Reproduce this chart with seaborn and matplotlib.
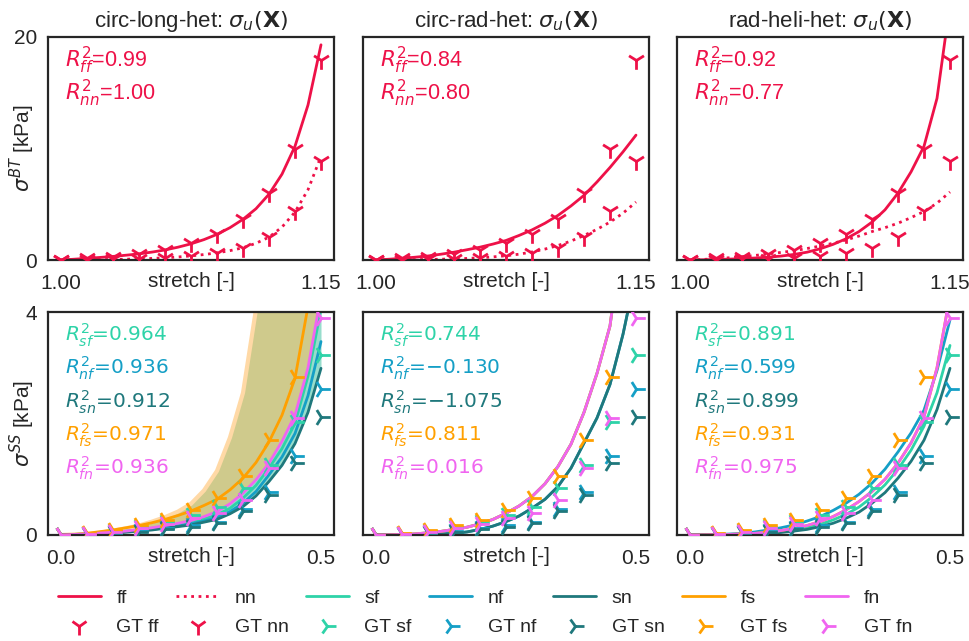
import numpy as np
import pandas as pd
import matplotlib
matplotlib.use("Agg")
import matplotlib.pyplot as plt
from matplotlib.lines import Line2D
import seaborn as sns

sns.set_theme(style="white")
plt.rcParams["font.family"] = ["Liberation Sans", "DejaVu Sans"]
plt.rcParams["mathtext.fontset"] = "dejavusans"

# ---------------- data ----------------
titles = ["circ-long-het", "circ-rad-het", "rad-heli-het"]

# biaxial tension (top row)
stretch_gt = [1.000, 1.015, 1.030, 1.045, 1.060, 1.075, 1.090, 1.105, 1.120, 1.135, 1.150]
gt_ff = [0.0, 0.15, 0.30, 0.54, 0.90, 1.50, 2.33, 3.65, 6.0, 10.0, 17.9]
gt_nn = [0.0, 0.02, 0.05, 0.10, 0.20, 0.36, 0.65, 1.05, 2.1, 4.35, 8.9]

stretch_fit = [1.0000, 1.0075, 1.0150, 1.0225, 1.0300, 1.0375, 1.0450, 1.0525, 1.0600, 1.0675,
               1.0750, 1.0825, 1.0900, 1.0975, 1.1050, 1.1125, 1.1200, 1.1275, 1.1350, 1.1425, 1.1500]
fit_ff = [
    [0.0, 0.07, 0.15, 0.23, 0.32, 0.43, 0.55, 0.71, 0.9, 1.15, 1.45, 1.83, 2.3, 2.9, 3.65, 4.6, 5.9, 7.7, 10.2, 13.9, 19.3],
    [0.0, 0.07, 0.15, 0.25, 0.36, 0.52, 0.7, 0.92, 1.15, 1.43, 1.75, 2.2, 2.7, 3.3, 4.0, 4.85, 5.8, 7.0, 8.3, 9.7, 11.2],
    [0.0, 0.02, 0.05, 0.08, 0.12, 0.18, 0.25, 0.35, 0.5, 0.7, 1.0, 1.4, 1.9, 2.55, 3.4, 4.5, 6.0, 7.9, 10.2, 14.5, 23.0],
]
fit_nn = [
    [0.0, 0.01, 0.02, 0.035, 0.05, 0.07, 0.1, 0.14, 0.2, 0.27, 0.37, 0.49, 0.64, 0.84, 1.1, 1.5, 2.05, 2.95, 4.3, 6.3, 9.3],
    [0.0, 0.01, 0.02, 0.035, 0.05, 0.07, 0.1, 0.14, 0.2, 0.28, 0.38, 0.52, 0.72, 0.98, 1.3, 1.7, 2.2, 2.75, 3.4, 4.2, 5.2],
    [0.0, 0.05, 0.12, 0.2, 0.3, 0.41, 0.54, 0.68, 0.83, 1.03, 1.25, 1.5, 1.8, 2.15, 2.55, 2.9, 3.3, 3.8, 4.35, 5.1, 6.1],
]
r2_top = [("0.99", "1.00"), ("0.84", "0.80"), ("0.92", "0.77")]

# simple shear (bottom row)
shear_gt = [0.00, 0.05, 0.10, 0.15, 0.20, 0.25, 0.30, 0.35, 0.40, 0.45, 0.50]
gt_sf = [0.0, 0.02, 0.07, 0.14, 0.23, 0.36, 0.51, 0.84, 1.26, 2.03, 3.23]
gt_nf = [0.0, 0.01, 0.03, 0.07, 0.12, 0.18, 0.24, 0.47, 0.78, 1.41, 2.61]
gt_sn = [0.0, 0.01, 0.03, 0.06, 0.10, 0.15, 0.21, 0.43, 0.72, 1.29, 2.12]
gt_fs = [0.0, 0.03, 0.09, 0.18, 0.27, 0.45, 0.66, 1.05, 1.70, 2.83, 4.8]
gt_fn = [0.0, 0.02, 0.06, 0.12, 0.20, 0.30, 0.39, 0.63, 1.20, 2.09, 3.9]

shear_fit = [0.000, 0.025, 0.050, 0.075, 0.100, 0.125, 0.150, 0.175, 0.200, 0.225, 0.250,
             0.275, 0.300, 0.325, 0.350, 0.375, 0.400, 0.425, 0.450, 0.475, 0.500]
fit_sf = [
    [0, 0.01, 0.02, 0.035, 0.05, 0.07, 0.09, 0.12, 0.15, 0.19, 0.23, 0.29, 0.36, 0.48, 0.66, 0.89, 1.2, 1.55, 2.0, 2.85, 4.05],
    [0, 0.002, 0.01, 0.02, 0.04, 0.065, 0.1, 0.14, 0.2, 0.28, 0.39, 0.52, 0.69, 0.92, 1.23, 1.63, 2.2, 2.9, 3.75, 5.5, 8.0],
    [0, 0.002, 0.004, 0.008, 0.015, 0.025, 0.04, 0.06, 0.09, 0.13, 0.19, 0.27, 0.37, 0.5, 0.68, 0.9, 1.18, 1.52, 1.95, 2.55, 3.4],
]
fit_nf = [
    [0, 0.007, 0.015, 0.027, 0.04, 0.06, 0.08, 0.1, 0.13, 0.16, 0.2, 0.25, 0.31, 0.42, 0.57, 0.78, 1.08, 1.4, 1.82, 2.5, 3.47],
    [0, 0.001, 0.003, 0.006, 0.01, 0.018, 0.03, 0.055, 0.1, 0.16, 0.24, 0.34, 0.48, 0.64, 0.87, 1.2, 1.65, 2.1, 2.7, 3.6, 4.7],
    [0, 0.003, 0.008, 0.017, 0.03, 0.055, 0.09, 0.13, 0.18, 0.25, 0.33, 0.44, 0.57, 0.73, 0.93, 1.18, 1.49, 1.83, 2.24, 2.95, 3.86],
]
fit_sn = [
    [0, 0.005, 0.012, 0.022, 0.035, 0.05, 0.07, 0.09, 0.12, 0.15, 0.18, 0.23, 0.28, 0.38, 0.51, 0.7, 0.96, 1.25, 1.64, 2.2, 2.99],
    [0, 0.001, 0.003, 0.006, 0.01, 0.018, 0.03, 0.055, 0.1, 0.16, 0.24, 0.34, 0.48, 0.64, 0.87, 1.2, 1.65, 2.1, 2.7, 3.6, 4.7],
    [0, 0.001, 0.003, 0.006, 0.01, 0.018, 0.03, 0.045, 0.07, 0.1, 0.15, 0.21, 0.3, 0.41, 0.57, 0.76, 1.02, 1.32, 1.7, 2.25, 2.99],
]
fit_fs = [
    [0, 0.01, 0.03, 0.06, 0.09, 0.13, 0.17, 0.22, 0.28, 0.35, 0.43, 0.53, 0.64, 0.81, 1.02, 1.3, 1.67, 2.15, 2.81, 4.1, 6.0],
    [0, 0.002, 0.01, 0.02, 0.04, 0.065, 0.1, 0.14, 0.2, 0.28, 0.39, 0.52, 0.69, 0.92, 1.23, 1.63, 2.2, 2.9, 3.75, 5.5, 8.0],
    [0, 0.001, 0.005, 0.01, 0.02, 0.03, 0.05, 0.08, 0.12, 0.17, 0.24, 0.33, 0.45, 0.6, 0.78, 1.0, 1.29, 1.65, 2.12, 3.0, 4.3],
]
fit_fn = [
    [0, 0.01, 0.02, 0.035, 0.05, 0.07, 0.1, 0.13, 0.17, 0.21, 0.26, 0.33, 0.42, 0.56, 0.75, 0.99, 1.29, 1.68, 2.15, 3.0, 4.3],
    [0, 0.002, 0.01, 0.02, 0.04, 0.065, 0.1, 0.14, 0.2, 0.28, 0.39, 0.52, 0.69, 0.92, 1.23, 1.63, 2.2, 2.9, 3.75, 5.5, 8.0],
    [0, 0.001, 0.005, 0.01, 0.02, 0.03, 0.05, 0.08, 0.12, 0.17, 0.24, 0.33, 0.45, 0.6, 0.78, 1.0, 1.29, 1.65, 2.12, 3.0, 4.3],
]
# uncertainty band (first shear panel only)
band_upper = [0, 0.01, 0.02, 0.04, 0.08, 0.12, 0.17, 0.24, 0.32, 0.42, 0.56,
              0.8, 1.15, 1.75, 2.55, 4.05, 6.0, 9.0, 13.0, 19.0, 27.0]

r2_bot = [
    ["0.964", "0.936", "0.912", "0.971", "0.936"],
    ["0.744", "\u22120.130", "\u22121.075", "0.811", "0.016"],
    ["0.891", "0.599", "0.899", "0.931", "0.975"],
]

modes = ["sf", "nf", "sn", "fs", "fn"]
colors = {"ff": "#EE1148", "nn": "#EE1148", "sf": "#2ED3A8", "nf": "#159FC6",
          "sn": "#1F787C", "fs": "#FFA000", "fn": "#F065F0"}
gt_shear = {"sf": gt_sf, "nf": gt_nf, "sn": gt_sn, "fs": gt_fs, "fn": gt_fn}
fit_shear = {"sf": fit_sf, "nf": fit_nf, "sn": fit_sn, "fs": fit_fs, "fn": fit_fn}

# ---------------- figure ----------------
fig = plt.figure(figsize=(9.7, 6.41), dpi=100)
lefts = [48 / 970, 363 / 970, 677 / 970]
w = 286 / 970
h = 223 / 641
b_top = 1 - 260 / 641
b_bot = 1 - 535 / 641

FS = 15
LW = 2.0
DARK = "#262626"


def style_axes(ax, first):
    for s in ax.spines.values():
        s.set_color(DARK)
        s.set_linewidth(1.6)
    ax.tick_params(axis="x", length=0, pad=10, labelsize=FS, colors=DARK)
    ax.tick_params(axis="y", length=0, pad=8, labelsize=FS, colors=DARK)
    if not first:
        ax.set_yticklabels([])
    ax.set_xlabel("stretch [-]", fontsize=FS, color=DARK)
    ax.xaxis.set_label_coords(0.5, -0.055)


def r2_text(ax, i, sub, val, color, family, size):
    ax.text(0.06, 0.895 - 0.149 * i, r"$R^2_{%s}$=%s" % (sub, val), transform=ax.transAxes,
            fontsize=size, color=color, family=family, va="center", ha="left")


for j in range(3):
    # ---- top row ----
    ax = fig.add_axes([lefts[j], b_top, w, h])
    sns.lineplot(x=stretch_fit, y=fit_ff[j], ax=ax, color=colors["ff"], linewidth=LW, zorder=2)
    sns.lineplot(x=stretch_fit, y=fit_nn[j], ax=ax, color=colors["nn"], linewidth=LW,
                 linestyle=":", zorder=2)
    sns.scatterplot(x=stretch_gt, y=gt_ff, ax=ax, marker="1", s=180, color=colors["ff"],
                    linewidth=2, zorder=3)
    sns.scatterplot(x=stretch_gt, y=gt_nn, ax=ax, marker="1", s=180, color=colors["nn"],
                    linewidth=2, zorder=3)
    ax.set_ylim(0, 20)
    ax.set_yticks([0, 20])
    ax.set_xticks([1.0, 1.15])
    ax.set_xticklabels(["1.00", "1.15"])
    style_axes(ax, j == 0)
    ax.set_title(titles[j] + r": $\sigma_u(\mathbf{X})$", fontsize=16, pad=7, color=DARK)
    r2_text(ax, 0, "ff", r2_top[j][0], colors["ff"], ["Liberation Sans", "DejaVu Sans"], 15.5)
    r2_text(ax, 1, "nn", r2_top[j][1], colors["nn"], ["Liberation Sans", "DejaVu Sans"], 15.5)
    if j == 0:
        ax.set_ylabel(r"$\sigma^{BT}$ [kPa]", fontsize=FS, color=DARK)
        ax.yaxis.set_label_coords(-0.04, 0.5)

    # ---- bottom row ----
    ax2 = fig.add_axes([lefts[j], b_bot, w, h])
    if j == 0:
        ax2.fill_between(shear_fit, fit_fn[0], band_upper, color="#CFCA8C", linewidth=0, zorder=1)
        ax2.fill_between(shear_fit, fit_sn[0], fit_fn[0], color="#97DDCC", linewidth=0, zorder=1)
        sns.lineplot(x=shear_fit, y=band_upper, ax=ax2, color="#FFD9A6", linewidth=3, zorder=1.5)
    for m in modes:
        sns.lineplot(x=shear_fit, y=fit_shear[m][j], ax=ax2, color=colors[m], linewidth=LW, zorder=2)
    for m in modes:
        sns.scatterplot(x=shear_gt, y=gt_shear[m], ax=ax2, marker="4", s=180, color=colors[m],
                        linewidth=2, zorder=3)
    ax2.set_ylim(0, 4)
    ax2.set_yticks([0, 4])
    ax2.set_xticks([0.0, 0.5])
    ax2.set_xticklabels(["0.0", "0.5"])
    style_axes(ax2, j == 0)
    for i, m in enumerate(modes):
        r2_text(ax2, i, m, r2_bot[j][i], colors[m], ["DejaVu Sans"], 14.5)
    if j == 0:
        ax2.set_ylabel(r"$\sigma^{SS}$ [kPa]", fontsize=FS, color=DARK)
        ax2.yaxis.set_label_coords(-0.04, 0.5)

# ---------------- legend ----------------
handles, labels = [], []
for m in ["ff", "nn", "sf", "nf", "sn", "fs", "fn"]:
    ls = ":" if m == "nn" else "-"
    handles.append(Line2D([], [], color=colors[m], lw=LW, ls=ls))
    labels.append(m)
    mk = "1" if m in ("ff", "nn") else "4"
    handles.append(Line2D([], [], color=colors[m], marker=mk, ls="", markersize=13, mew=2))
    labels.append("GT " + m)

fig.legend(handles, labels, ncol=7, loc="lower center", bbox_to_anchor=(0.5, -0.02),
           frameon=False, fontsize=14, handlelength=2.2, columnspacing=0.9,
           handletextpad=0.8, labelspacing=0.6)

fig.savefig("out.png", dpi=100)
